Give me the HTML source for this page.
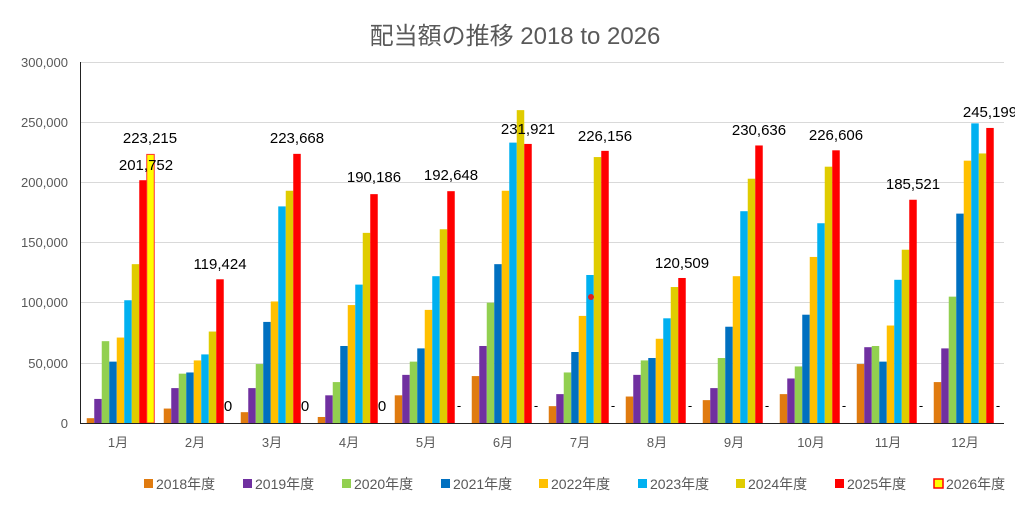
<!DOCTYPE html>
<html><head><meta charset="utf-8"><style>
body{margin:0;background:#fff;}
svg{display:block;font-family:"Liberation Sans","Noto Sans CJK JP",sans-serif;}
</style></head><body>
<svg id="c" width="1015" height="508" viewBox="0 0 1015 508">
<text x="515" y="44" text-anchor="middle" font-size="24" fill="#595959">配当額の推移  2018 to 2026</text>
<g stroke="#d9d9d9" stroke-width="1">
<line x1="80" x2="1004" y1="62.5" y2="62.5"/><line x1="80" x2="1004" y1="122.5" y2="122.5"/><line x1="80" x2="1004" y1="182.5" y2="182.5"/><line x1="80" x2="1004" y1="242.5" y2="242.5"/><line x1="80" x2="1004" y1="302.5" y2="302.5"/><line x1="80" x2="1004" y1="363.5" y2="363.5"/>
</g>
<g font-size="13" fill="#595959" text-anchor="end">
<text x="68" y="67">300,000</text><text x="68" y="127">250,000</text><text x="68" y="187">200,000</text><text x="68" y="247">150,000</text><text x="68" y="307">100,000</text><text x="68" y="368">50,000</text><text x="68" y="428">0</text>
</g>
<g id="bars"></g>
<line x1="80.5" x2="80.5" y1="62" y2="424" stroke="#222" stroke-width="1"/>
<line x1="80" x2="1004" y1="423.5" y2="423.5" stroke="#222" stroke-width="1"/>
<g font-size="13" fill="#595959" text-anchor="middle">
<text x="118" y="447">1月</text><text x="195" y="447">2月</text><text x="272" y="447">3月</text><text x="349" y="447">4月</text><text x="426" y="447">5月</text><text x="503" y="447">6月</text><text x="580" y="447">7月</text><text x="657" y="447">8月</text><text x="734" y="447">9月</text><text x="811" y="447">10月</text><text x="888" y="447">11月</text><text x="965" y="447">12月</text>
</g>
<g font-size="15" fill="#000" text-anchor="middle">
<text x="150" y="143">223,215</text>
<text x="146" y="170">201,752</text>
<text x="220" y="269">119,424</text>
<text x="297" y="143">223,668</text>
<text x="374" y="182">190,186</text>
<text x="451" y="180">192,648</text>
<text x="528" y="134">231,921</text>
<text x="605" y="141">226,156</text>
<text x="682" y="268">120,509</text>
<text x="759" y="135">230,636</text>
<text x="836" y="140">226,606</text>
<text x="913" y="189">185,521</text>
<text x="990" y="117">245,199</text>
<text x="228" y="411">0</text><text x="305" y="411">0</text><text x="382" y="411">0</text>
</g>
<g font-size="13" fill="#000" text-anchor="middle">
<text x="459" y="410">-</text><text x="536" y="410">-</text><text x="613" y="410">-</text><text x="690" y="410">-</text><text x="767" y="410">-</text><text x="844" y="410">-</text><text x="921" y="410">-</text><text x="998" y="410">-</text>
</g>
<circle cx="591" cy="297" r="3" fill="#e02020"/>
<g font-size="14" fill="#595959">
<rect x="144" y="479" width="9" height="9" fill="#e07b10"/><text x="156" y="489">2018年度</text>
<rect x="243" y="479" width="9" height="9" fill="#7030a0"/><text x="255" y="489">2019年度</text>
<rect x="342" y="479" width="9" height="9" fill="#92d050"/><text x="354" y="489">2020年度</text>
<rect x="441" y="479" width="9" height="9" fill="#0070c0"/><text x="453" y="489">2021年度</text>
<rect x="539" y="479" width="9" height="9" fill="#ffc000"/><text x="551" y="489">2022年度</text>
<rect x="638" y="479" width="9" height="9" fill="#00b0f0"/><text x="650" y="489">2023年度</text>
<rect x="736" y="479" width="9" height="9" fill="#e0cc00"/><text x="748" y="489">2024年度</text>
<rect x="835" y="479" width="9" height="9" fill="#ff0000"/><text x="847" y="489">2025年度</text>
<rect x="934" y="479" width="9" height="9" fill="#ffff00" stroke="#ff0000" stroke-width="1.5"/><text x="946" y="489">2026年度</text>
</g>
</svg>
<script>
var d=[[4,20,68,51,71,102,132,201.752,223.215],[12,29,41,42,52,57,76,119.424,0],[9,29,49,84,101,180,193,223.668,0],[5,23,34,64,98,115,158,190.186,0],[23,40,51,62,94,122,161,192.648,0],[39,64,100,132,193,233,260,231.921,0],[14,24,42,59,89,123,221,226.156,0],[22,40,52,54,70,87,113,120.509,0],[19,29,54,80,122,176,203,230.636,0],[24,37,47,90,138,166,213,226.606,0],[49,63,64,51,81,119,144,185.521,0],[34,62,105,174,218,249,224,245.199,0]];
var col=["#e07b10","#7030a0","#92d050","#0070c0","#ffc000","#00b0f0","#e0cc00","#ff0000","#ffff00"];
var s="";
for(var i=0;i<12;i++)for(var j=0;j<9;j++){var v=d[i][j];if(!v)continue;var h=v*361/300;var x=82+77*i+4.75+7.5*j;
s+='<rect x="'+x+'" y="'+(423-h)+'" width="7.5" height="'+h+'" fill="'+col[j]+'"'+(j==8?' stroke="#ff3030" stroke-width="1"':'')+'/>';}
document.getElementById("bars").innerHTML=s;
</script>
</body></html>
